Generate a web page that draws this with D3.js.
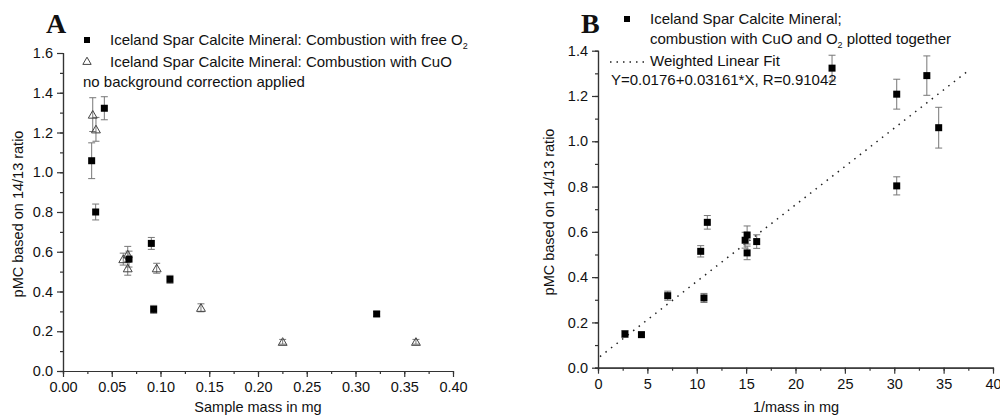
<!DOCTYPE html>
<meta charset="utf-8">
<style>
body { margin: 0; background: #fff; }
svg { font-family: "Liberation Sans", Arial, sans-serif; }
.axis path, .axis line { stroke: #333; stroke-width: 1.2px; }
.axis text { font-size: 14.5px; fill: #111; }
.err { stroke: #777; stroke-width: 1px; }
.lbl { font-size: 15px; fill: #111; }
.ttl { font-size: 14.5px; fill: #111; }
.panel { font-family: "Liberation Serif", "Times New Roman", serif; font-weight: bold; font-size: 28px; fill: #111; }
</style>
<body>
<div id="chart"></div>
<script src="https://d3js.org/d3.v7.min.js"></script>
<script>

// panel A: pMC vs sample mass, combustion with free O2 (squares)
var massO2 = [0.0424, 0.0294, 0.0335, 0.0677, 0.0906, 0.1097, 0.0930, 0.3217];
var pmcO2  = [1.322, 1.058, 0.800, 0.563, 0.642, 0.461, 0.310, 0.287];
var errO2  = [0.058, 0.090, 0.040, 0.040, 0.030, 0.020, 0.020, 0.012];

// panel A: combustion with CuO (triangles)
var massCuO = [0.0305, 0.0338, 0.0618, 0.0664, 0.0664, 0.0961, 0.1415, 0.2253, 0.3620];
var pmcCuO  = [1.290, 1.216, 0.563, 0.587, 0.517, 0.517, 0.318, 0.147, 0.147];
var errCuO  = [0.085, 0.060, 0.030, 0.040, 0.035, 0.025, 0.020, 0.012, 0.012];

// panel B: pMC vs 1/mass, all together
var invMass = [23.7, 30.25, 33.3, 34.5, 30.25, 11.07, 10.4, 14.9, 15.1, 15.1, 16.07, 7.06, 10.73, 2.73, 4.4];
var pmcAll  = [1.323, 1.208, 1.290, 1.060, 0.803, 0.642, 0.514, 0.563, 0.586, 0.507, 0.557, 0.318, 0.308, 0.149, 0.146];
var errAll  = [0.057, 0.066, 0.087, 0.090, 0.040, 0.030, 0.025, 0.035, 0.040, 0.030, 0.030, 0.020, 0.020, 0.015, 0.010];

// fitted line as drawn (end points)
var fitX = [0.2, 37.3];
var fitY = [0.049, 1.305];

var xTicksA = [0, 0.05, 0.10, 0.15, 0.20, 0.25, 0.30, 0.35, 0.40];
var yTicksA = [0, 0.2, 0.4, 0.6, 0.8, 1.0, 1.2, 1.4, 1.6];
var xTicksB = [0, 5, 10, 15, 20, 25, 30, 35, 40];
var yTicksB = [0, 0.2, 0.4, 0.6, 0.8, 1.0, 1.2, 1.4];

var svg = d3.select("#chart").append("svg")
    .attr("width", 1000)
    .attr("height", 420);

function axes(g, x, y, xt, yt, xfmt, yfmt) {
    var xr = x.range(), yr = y.range();
    var xminor = d3.range(xt[0], xt[xt.length - 1], (xt[1] - xt[0]) / 2);
    var yminor = d3.range(yt[0], yt[yt.length - 1], (yt[1] - yt[0]) / 2);

    g.append("g").attr("class", "axis")
        .attr("transform", "translate(0," + yr[0] + ")")
        .call(d3.axisBottom(x).tickValues(xminor).tickSize(3).tickFormat(""));
    g.append("g").attr("class", "axis")
        .attr("transform", "translate(0," + yr[0] + ")")
        .call(d3.axisBottom(x).tickValues(xt).tickSize(6).tickSizeOuter(0).tickPadding(5).tickFormat(xfmt));

    g.append("g").attr("class", "axis")
        .attr("transform", "translate(" + xr[0] + ",0)")
        .call(d3.axisLeft(y).tickValues(yminor).tickSize(3).tickFormat(""));
    g.append("g").attr("class", "axis")
        .attr("transform", "translate(" + xr[0] + ",0)")
        .call(d3.axisLeft(y).tickValues(yt).tickSize(6).tickSizeOuter(0).tickPadding(4).tickFormat(yfmt));

    g.selectAll(".axis text").style("font-family", "Liberation Sans, Arial, sans-serif");
}

function errorBars(g, x, y, xs, ys, es) {
    var eb = g.append("g");
    xs.forEach(function(v, i) {
        var cx = x(v), t = y(ys[i] + es[i]), b = y(ys[i] - es[i]);
        eb.append("line").attr("class", "err").attr("x1", cx).attr("x2", cx).attr("y1", t).attr("y2", b);
        eb.append("line").attr("class", "err").attr("x1", cx - 3.5).attr("x2", cx + 3.5).attr("y1", t).attr("y2", t);
        eb.append("line").attr("class", "err").attr("x1", cx - 3.5).attr("x2", cx + 3.5).attr("y1", b).attr("y2", b);
    });
}

function squares(g, x, y, xs, ys) {
    g.append("g").selectAll("rect")
        .data(xs)
        .join("rect")
        .attr("x", function(d) { return x(d) - 3.5; })
        .attr("y", function(d, i) { return y(ys[i]) - 3.5; })
        .attr("width", 7)
        .attr("height", 7)
        .attr("fill", "#000");
}

var tri = d3.symbol().type(d3.symbolTriangle).size(34);

function triangles(g, x, y, xs, ys) {
    g.append("g").selectAll("path")
        .data(xs)
        .join("path")
        .attr("d", tri)
        .attr("transform", function(d, i) { return "translate(" + x(d) + "," + (y(ys[i]) + 1) + ")"; })
        .attr("fill", "none")
        .attr("stroke", "#444")
        .attr("stroke-width", 1);
}

// ---------- panel A ----------
var xA = d3.scaleLinear().domain([0, 0.4]).range([63, 453]);
var yA = d3.scaleLinear().domain([0, 1.6]).range([371, 53]);
var gA = svg.append("g");

axes(gA, xA, yA, xTicksA, yTicksA, d3.format(".2f"), d3.format(".1f"));
errorBars(gA, xA, yA, massCuO, pmcCuO, errCuO);
errorBars(gA, xA, yA, massO2, pmcO2, errO2);
triangles(gA, xA, yA, massCuO, pmcCuO);
squares(gA, xA, yA, massO2, pmcO2);

gA.append("text").attr("class", "panel").attr("x", 46).attr("y", 33).text("A");

gA.append("rect").attr("x", 84).attr("y", 37).attr("width", 6).attr("height", 6).attr("fill", "#000");
var la1 = gA.append("text").attr("class", "lbl").attr("x", 110).attr("y", 45)
    .text("Iceland Spar Calcite Mineral: Combustion with free O");
la1.append("tspan").attr("font-size", 9).attr("dy", 4).text("2");

gA.append("path").attr("d", d3.symbol().type(d3.symbolTriangle).size(30))
    .attr("transform", "translate(87,62)")
    .attr("fill", "none").attr("stroke", "#444");
gA.append("text").attr("class", "lbl").attr("x", 110).attr("y", 67)
    .text("Iceland Spar Calcite Mineral: Combustion with CuO");
gA.append("text").attr("class", "lbl").attr("x", 83).attr("y", 87)
    .text("no background correction applied");

gA.append("text").attr("class", "ttl").attr("text-anchor", "middle")
    .attr("transform", "translate(23,214) rotate(-90)")
    .text("pMC based on 14/13 ratio");
gA.append("text").attr("class", "ttl").attr("text-anchor", "middle")
    .attr("x", 258).attr("y", 412)
    .text("Sample mass in mg");

// ---------- panel B ----------
var xB = d3.scaleLinear().domain([0, 40]).range([598, 993]);
var yB = d3.scaleLinear().domain([0, 1.4]).range([367.7, 50.7]);
var gB = svg.append("g");

axes(gB, xB, yB, xTicksB, yTicksB, d3.format("d"), d3.format(".1f"));

gB.append("line")
    .attr("x1", xB(fitX[0])).attr("y1", yB(fitY[0]))
    .attr("x2", xB(fitX[1])).attr("y2", yB(fitY[1]))
    .attr("stroke", "#222").attr("stroke-width", 1.5)
    .attr("stroke-dasharray", "1.5,5.5");

errorBars(gB, xB, yB, invMass, pmcAll, errAll);
squares(gB, xB, yB, invMass, pmcAll);

gB.append("text").attr("class", "panel").attr("x", 581).attr("y", 33).text("B");

gB.append("rect").attr("x", 624).attr("y", 16).attr("width", 6).attr("height", 6).attr("fill", "#000");
gB.append("text").attr("class", "lbl").attr("x", 650).attr("y", 24)
    .text("Iceland Spar Calcite Mineral;");
var lb2 = gB.append("text").attr("class", "lbl").attr("x", 650).attr("y", 44)
    .text("combustion with CuO and O");
lb2.append("tspan").attr("font-size", 9).attr("dy", 4).text("2");
lb2.append("tspan").attr("dy", -4).text(" plotted together");

gB.append("line").attr("x1", 610).attr("x2", 647).attr("y1", 62).attr("y2", 62)
    .attr("stroke", "#222").attr("stroke-width", 1.5).attr("stroke-dasharray", "1.5,5");
gB.append("text").attr("class", "lbl").attr("x", 650).attr("y", 66)
    .text("Weighted Linear Fit");
gB.append("text").attr("class", "lbl").attr("x", 611).attr("y", 85)
    .text("Y=0.0176+0.03161*X, R=0.91042");

gB.append("text").attr("class", "ttl").attr("text-anchor", "middle")
    .attr("transform", "translate(554,212) rotate(-90)")
    .text("pMC based on 14/13 ratio");
gB.append("text").attr("class", "ttl").attr("text-anchor", "middle")
    .attr("x", 796).attr("y", 412)
    .text("1/mass in mg");

</script>
</body>
